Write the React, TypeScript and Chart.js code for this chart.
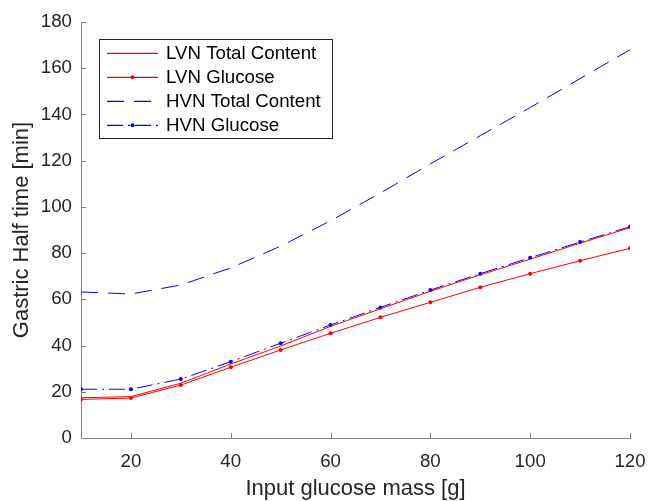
import { useEffect, useRef } from "react";
import { Chart, registerables } from "chart.js";

Chart.register(...registerables);

const inputMass = [10, 20, 30, 40, 50, 60, 70, 80, 90, 100, 110, 120];
const lvnTotal = [17.4, 17.9, 23.7, 32.0, 39.8, 48.3, 55.9, 63.5, 70.6, 77.4, 84.3, 91.0];
const lvnGlucose = [16.7, 17.3, 22.9, 30.6, 38.1, 45.3, 52.2, 58.7, 65.2, 71.1, 76.7, 82.1];
const hvnTotal = [63.2, 62.3, 66.2, 73.6, 83.0, 94.0, 106.0, 118.6, 130.8, 143.0, 155.5, 168.0];
const hvnGlucose = [21.1, 21.1, 25.5, 33.0, 41.0, 48.9, 56.5, 64.0, 71.1, 78.0, 84.8, 91.4];
const xTickValues = [20, 40, 60, 80, 100, 120];
const yTickValues = [0, 20, 40, 60, 80, 100, 120, 140, 160, 180];
const seriesNames = ["LVN Total Content", "LVN Glucose", "HVN Total Content", "HVN Glucose"];

const FONT = '"Liberation Sans", Arial, Helvetica, sans-serif';
const AXIS_COLOR = "#808080";
const TEXT_COLOR = "#262626";

const STYLES = [
  { color: "#ff0000", dash: [] as number[], radius: 0 },
  { color: "#ff0000", dash: [] as number[], radius: 2 },
  { color: "#0000ff", dash: [17, 10], radius: 0 },
  { color: "#0000ff", dash: [16, 5, 2, 5], radius: 2 },
];

const toPoints = (ys: number[]) => inputMass.map((x, i) => ({ x, y: ys[i] }));

const innerTicksPlugin = {
  id: "innerTicks",
  afterDraw(chart: any) {
    const { ctx, chartArea } = chart;
    const xs = chart.scales.x;
    const ys = chart.scales.y;
    ctx.save();
    ctx.strokeStyle = AXIS_COLOR;
    ctx.lineWidth = 1;
    ctx.setLineDash([]);
    xTickValues.forEach((v) => {
      const px = Math.round(xs.getPixelForValue(v)) + 0.5;
      ctx.beginPath();
      ctx.moveTo(px, chartArea.bottom);
      ctx.lineTo(px, chartArea.bottom - 5);
      ctx.stroke();
    });
    yTickValues.forEach((v) => {
      const py = Math.round(ys.getPixelForValue(v)) + 0.5;
      ctx.beginPath();
      ctx.moveTo(chartArea.left, py);
      ctx.lineTo(chartArea.left + 5, py);
      ctx.stroke();
    });
    ctx.restore();
  },
};

const boxLegendPlugin = {
  id: "boxLegend",
  afterDraw(chart: any) {
    const ctx = chart.ctx as CanvasRenderingContext2D;
    const x0 = 99.5;
    const y0 = 39.5;
    const w = 233;
    const h = 99;
    ctx.save();
    ctx.fillStyle = "#ffffff";
    ctx.fillRect(x0, y0, w, h);
    ctx.strokeStyle = TEXT_COLOR;
    ctx.lineWidth = 1;
    ctx.setLineDash([]);
    ctx.strokeRect(x0, y0, w, h);
    seriesNames.forEach((name, i) => {
      const st = STYLES[i];
      const y = 53.3 + i * 24;
      ctx.strokeStyle = st.color;
      ctx.lineWidth = 1.2;
      ctx.setLineDash(st.dash);
      ctx.beginPath();
      ctx.moveTo(107, y);
      ctx.lineTo(158, y);
      ctx.stroke();
      ctx.setLineDash([]);
      if (st.radius > 0) {
        ctx.fillStyle = st.color;
        ctx.beginPath();
        ctx.arc(132.5, y, st.radius, 0, Math.PI * 2);
        ctx.fill();
      }
      ctx.fillStyle = "#000000";
      ctx.font = `18.7px ${FONT}`;
      ctx.textBaseline = "middle";
      ctx.textAlign = "left";
      ctx.fillText(name, 166, y + 1);
    });
    ctx.restore();
  },
};

export default function App() {
  const canvasRef = useRef<HTMLCanvasElement | null>(null);

  useEffect(() => {
    document.body.style.margin = "0";
    const canvas = canvasRef.current;
    if (!canvas) return;
    const seriesValues = [lvnTotal, lvnGlucose, hvnTotal, hvnGlucose];
    const chart = new Chart(canvas, {
      type: "line",
      data: {
        datasets: seriesNames.map((name, i) => ({
          label: name,
          data: toPoints(seriesValues[i]),
          borderColor: STYLES[i].color,
          backgroundColor: STYLES[i].color,
          pointBackgroundColor: STYLES[i].color,
          pointBorderColor: STYLES[i].color,
          borderWidth: 1,
          borderDash: STYLES[i].dash,
          pointRadius: STYLES[i].radius,
          pointBorderWidth: 0,
          fill: false,
        })),
      } as any,
      options: {
        animation: false,
        responsive: true,
        maintainAspectRatio: false,
        layout: { padding: { top: 22, right: 18, left: 0, bottom: 0 } },
        plugins: {
          legend: { display: false },
          tooltip: { enabled: false },
        },
        scales: {
          x: {
            type: "linear",
            min: 10,
            max: 120,
            afterBuildTicks: (scale: any) => {
              scale.ticks = xTickValues.map((v) => ({ value: v }));
            },
            afterFit: (scale: any) => {
              scale.height = 63;
              scale.paddingLeft = 0;
              scale.paddingRight = 0;
            },
            grid: { display: true, drawOnChartArea: false, drawTicks: false },
            border: { display: true, color: AXIS_COLOR, width: 1 },
            ticks: {
              padding: 13,
              color: TEXT_COLOR,
              font: { family: FONT, size: 18.7 },
              maxRotation: 0,
              autoSkip: false,
            },
            title: {
              display: true,
              text: "Input glucose mass [g]",
              color: TEXT_COLOR,
              font: { family: FONT, size: 22, lineHeight: 1 },
              padding: { top: 0, bottom: 1 },
            },
          },
          y: {
            type: "linear",
            min: 0,
            max: 180,
            afterBuildTicks: (scale: any) => {
              scale.ticks = yTickValues.map((v) => ({ value: v }));
            },
            afterFit: (scale: any) => {
              scale.width = 81;
              scale.paddingTop = 0;
              scale.paddingBottom = 0;
            },
            grid: { display: true, drawOnChartArea: false, drawTicks: false },
            border: { display: true, color: AXIS_COLOR, width: 1 },
            ticks: {
              padding: 9,
              color: TEXT_COLOR,
              font: { family: FONT, size: 18.7 },
              autoSkip: false,
            },
            title: {
              display: true,
              text: "Gastric Half time [min]",
              color: TEXT_COLOR,
              font: { family: FONT, size: 22, lineHeight: 1 },
              padding: { top: 11, bottom: 0 },
            },
          },
        },
      } as any,
      plugins: [innerTicksPlugin, boxLegendPlugin],
    });
    return () => chart.destroy();
  }, []);

  return (
    <div style={{ position: "relative", width: "648px", height: "501px" }}>
      <canvas ref={canvasRef} />
    </div>
  );
}
